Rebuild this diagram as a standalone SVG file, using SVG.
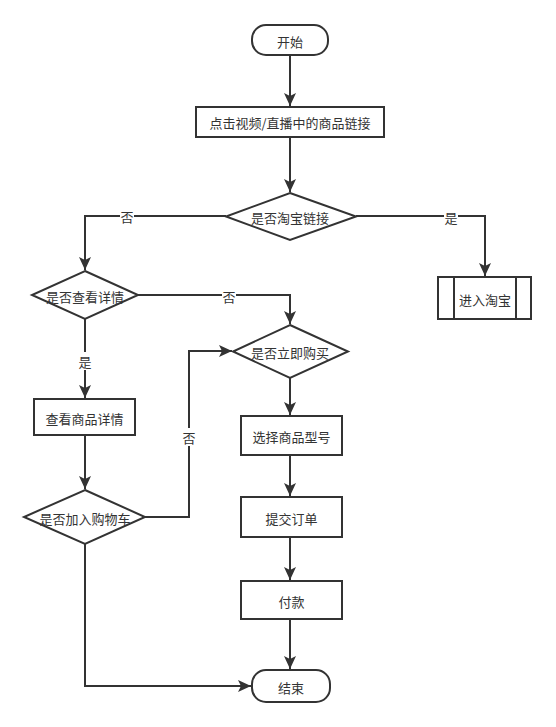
<svg xmlns="http://www.w3.org/2000/svg" width="556" height="727" viewBox="0 0 556 727">
<defs>
<style>
.n{fill:#fff;stroke:#333;stroke-width:2}
.e{fill:none;stroke:#333;stroke-width:2}
text{font-family:"Noto Sans CJK SC","Liberation Sans",sans-serif;font-size:13px;fill:#333;text-anchor:middle;dominant-baseline:central}
.lb{fill:#fff;stroke:none}
</style>
<marker id="a" markerUnits="userSpaceOnUse" markerWidth="14" markerHeight="12" refX="13" refY="6" orient="auto">
<path d="M0,0 L13,6 L0,12 L3,6 Z" fill="#333"/>
</marker>
</defs>
<rect width="556" height="727" fill="#fff"/>
<g id="connectors">
<path class="e" d="M290,55 V106" marker-end="url(#a)"/>
<path class="e" d="M290,137 V192" marker-end="url(#a)"/>
<path class="e" d="M226,216 H85 V270" marker-end="url(#a)"/>
<path class="e" d="M356,216 H485 V276" marker-end="url(#a)"/>
<path class="e" d="M138,295 H290 V324" marker-end="url(#a)"/>
<path class="e" d="M85,319 V398" marker-end="url(#a)"/>
<path class="e" d="M85,435 V489" marker-end="url(#a)"/>
<path class="e" d="M145,517 H189 V351 H232" marker-end="url(#a)"/>
<path class="e" d="M290,378 V415" marker-end="url(#a)"/>
<path class="e" d="M290,455 V496" marker-end="url(#a)"/>
<path class="e" d="M290,537 V580" marker-end="url(#a)"/>
<path class="e" d="M290,619 V669" marker-end="url(#a)"/>
<path class="e" d="M85,544 V686 H251" marker-end="url(#a)"/>
<rect class="lb" x="120" y="208" width="14" height="16"/>
<text x="127" y="216">否</text>
<rect class="lb" x="444" y="208" width="14" height="16"/>
<text x="451" y="217">是</text>
<rect class="lb" x="222" y="287" width="14" height="16"/>
<text x="229" y="296">否</text>
<rect class="lb" x="78" y="352" width="14" height="18"/>
<text x="85" y="361">是</text>
<rect class="lb" x="182" y="428" width="14" height="18"/>
<text x="189" y="437">否</text>
</g>
<g id="start">
<rect class="n" x="252" y="25" width="76" height="30" rx="14"/>
<text x="290" y="41">开始</text>
</g>
<g id="click">
<rect class="n" x="196" y="107" width="188" height="30"/>
<text x="290" y="122">点击视频/直播中的商品链接</text>
</g>
<g id="isTaobao">
<path class="n" d="M290,193 L356,216.5 L290,240 L226,216.5 Z"/>
<text x="290" y="217">是否淘宝链接</text>
</g>
<g id="enterTaobao">
<rect class="n" x="438" y="277" width="93" height="42"/>
<path class="e" d="M454,277 V319 M516,277 V319"/>
<text x="485" y="299">进入淘宝</text>
</g>
<g id="viewDetail">
<path class="n" d="M85,271 L138,295 L85,319 L32,295 Z"/>
<text x="85" y="296">是否查看详情</text>
</g>
<g id="buyNow">
<path class="n" d="M290,325 L348,351.5 L290,378 L233,351.5 Z"/>
<text x="290" y="352">是否立即购买</text>
</g>
<g id="detail">
<rect class="n" x="34" y="399" width="101" height="36"/>
<text x="84.5" y="418">查看商品详情</text>
</g>
<g id="addCart">
<path class="n" d="M85,490 L145,517 L85,544 L24,517 Z"/>
<text x="85" y="518">是否加入购物车</text>
</g>
<g id="select">
<rect class="n" x="241" y="416" width="101" height="39"/>
<text x="291.5" y="436">选择商品型号</text>
</g>
<g id="submit">
<rect class="n" x="241" y="497" width="101" height="40"/>
<text x="291.5" y="518">提交订单</text>
</g>
<g id="pay">
<rect class="n" x="241" y="581" width="101" height="38"/>
<text x="291.5" y="601">付款</text>
</g>
<g id="end">
<rect class="n" x="252" y="670" width="78" height="32" rx="14"/>
<text x="291" y="687">结束</text>
</g>
</svg>
